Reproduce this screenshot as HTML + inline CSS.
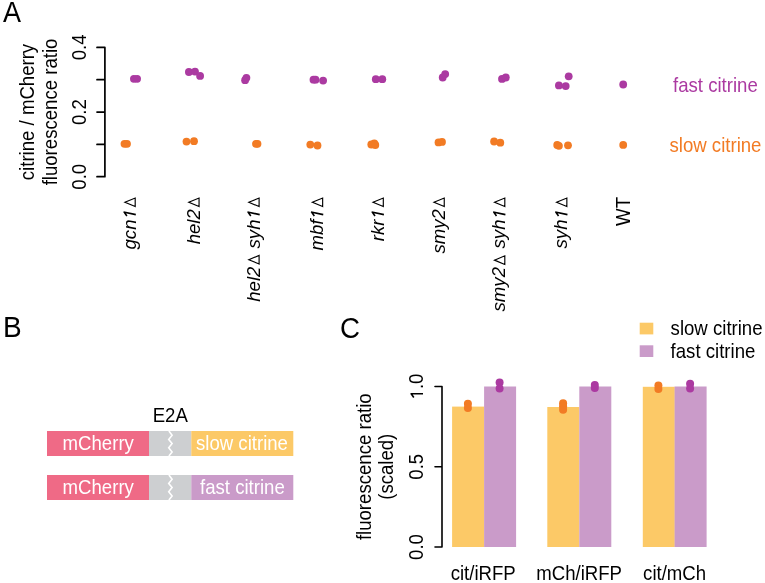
<!DOCTYPE html>
<html><head><meta charset="utf-8">
<style>
html,body{margin:0;padding:0;background:#fff;width:765px;height:583px;overflow:hidden}
svg{display:block;will-change:transform}
text{font-family:"Liberation Sans",sans-serif;fill:#000}
.d{font-style:normal;font-size:16px;fill-opacity:0}
.o{fill-opacity:0}
</style></head><body>
<svg width="765" height="583" viewBox="0 0 765 583">
<text transform="translate(3.1 22.4) scale(0.965 1.05)" text-anchor="start" style="font-size:28px;fill:#000" >A</text>
<text transform="translate(2.9 337.1) scale(1.0 1.04)" text-anchor="start" style="font-size:28px;fill:#000" >B</text>
<text transform="translate(340 337.6) scale(0.99 1.07)" text-anchor="start" style="font-size:28px;fill:#000" >C</text>
<path d="M97 47.4H104.9V176.7H97M97 79.7H104.9M97 112.1H104.9M97 144.4H104.9" fill="none" stroke="#000" stroke-width="1.7" stroke-linecap="round" stroke-linejoin="round"/>
<text transform="translate(85.75 176.7) rotate(-90) scale(1 1.042)" text-anchor="middle" style="font-size:18.6px;fill:#000">0.0</text>
<text transform="translate(85.75 112.1) rotate(-90) scale(1 1.042)" text-anchor="middle" style="font-size:18.6px;fill:#000">0.2</text>
<text transform="translate(85.75 47.4) rotate(-90) scale(1 1.042)" text-anchor="middle" style="font-size:18.6px;fill:#000">0.4</text>
<text transform="translate(33.9 112) rotate(-90) scale(1 1.042)" text-anchor="middle" style="font-size:18.6px;fill:#000">citrine / mCherry</text>
<text transform="translate(57 112) rotate(-90) scale(1 1.042)" text-anchor="middle" style="font-size:18.6px;fill:#000">fluorescence ratio</text>
<g fill="#ab3aa1"><circle cx="133.9" cy="78.8" r="3.9"/><circle cx="137.1" cy="78.8" r="3.9"/><circle cx="188.9" cy="72" r="3.9"/><circle cx="195" cy="71.6" r="3.9"/><circle cx="200.1" cy="75.9" r="3.9"/><circle cx="246.4" cy="77.8" r="3.9"/><circle cx="245.1" cy="80.2" r="3.9"/><circle cx="313.5" cy="79.7" r="3.9"/><circle cx="315.5" cy="79.7" r="3.9"/><circle cx="323.1" cy="80.6" r="3.9"/><circle cx="375.8" cy="79.2" r="3.9"/><circle cx="382.3" cy="79.2" r="3.9"/><circle cx="442.7" cy="77.5" r="3.9"/><circle cx="445.2" cy="74.1" r="3.9"/><circle cx="502" cy="78.9" r="3.9"/><circle cx="505.8" cy="77.5" r="3.9"/><circle cx="568.7" cy="76.3" r="3.9"/><circle cx="558.9" cy="85.4" r="3.9"/><circle cx="565.7" cy="86.1" r="3.9"/><circle cx="623.2" cy="84.5" r="3.9"/></g>
<g fill="#f27b24"><circle cx="124.5" cy="143.8" r="3.9"/><circle cx="127" cy="143.8" r="3.9"/><circle cx="186.5" cy="141.6" r="3.9"/><circle cx="194" cy="141.2" r="3.9"/><circle cx="256" cy="143.8" r="3.9"/><circle cx="257.5" cy="143.8" r="3.9"/><circle cx="310.3" cy="144.6" r="3.9"/><circle cx="317.5" cy="145.5" r="3.9"/><circle cx="371.3" cy="144.5" r="3.9"/><circle cx="374.3" cy="143.5" r="3.9"/><circle cx="375.3" cy="145" r="3.9"/><circle cx="438.5" cy="142.4" r="3.9"/><circle cx="442" cy="141.9" r="3.9"/><circle cx="494.1" cy="141.5" r="3.9"/><circle cx="500.3" cy="142.7" r="3.9"/><circle cx="557.2" cy="144.9" r="3.9"/><circle cx="558.9" cy="145.8" r="3.9"/><circle cx="568" cy="145.3" r="3.9"/><circle cx="623.2" cy="144.9" r="3.9"/></g>
<text transform="translate(673 91.6) scale(1.0 1.042)" text-anchor="start" style="font-size:18.6px;fill:#ab3aa1" >fast citrine</text>
<text transform="translate(669.5 151.7) scale(1.0 1.042)" text-anchor="start" style="font-size:18.6px;fill:#f27b24" >slow citrine</text>
<text transform="translate(135.8 197) rotate(-90) scale(1 0.97)" text-anchor="end" style="font-size:18.6px;fill:#000;font-style:italic">gcn<tspan class="o">1</tspan><tspan class="d" dx="1.5">Δ</tspan></text>
<text transform="translate(199.65 197) rotate(-90) scale(1 0.97)" text-anchor="end" style="font-size:18.6px;fill:#000;font-style:italic">hel2<tspan class="d" dx="1.5">Δ</tspan></text>
<text transform="translate(259.7 197) rotate(-90) scale(1 0.97)" text-anchor="end" style="font-size:18.6px;fill:#000;font-style:italic">hel2<tspan class="d" dx="1.5">Δ</tspan> <tspan dx="0.8">syh</tspan><tspan class="o">1</tspan><tspan class="d" dx="1.5">Δ</tspan></text>
<text transform="translate(323.25 197) rotate(-90) scale(1 0.97)" text-anchor="end" style="font-size:18.6px;fill:#000;font-style:italic">mbf<tspan class="o">1</tspan><tspan class="d" dx="1.5">Δ</tspan></text>
<text transform="translate(383.9 197) rotate(-90) scale(1 0.97)" text-anchor="end" style="font-size:18.6px;fill:#000;font-style:italic">rkr<tspan class="o">1</tspan><tspan class="d" dx="1.5">Δ</tspan></text>
<text transform="translate(444.85 197) rotate(-90) scale(1 0.97)" text-anchor="end" style="font-size:18.6px;fill:#000;font-style:italic">smy2<tspan class="d" dx="1.5">Δ</tspan></text>
<text transform="translate(505.4 197) rotate(-90) scale(1 0.97)" text-anchor="end" style="font-size:18.6px;fill:#000;font-style:italic">smy2<tspan class="d" dx="1.5">Δ</tspan> <tspan dx="1.2">syh</tspan><tspan class="o">1</tspan><tspan class="d" dx="1.5">Δ</tspan></text>
<text transform="translate(567.45 197) rotate(-90) scale(1 0.97)" text-anchor="end" style="font-size:18.6px;fill:#000;font-style:italic">syh<tspan class="o">1</tspan><tspan class="d" dx="1.5">Δ</tspan></text>
<path d="M135.20 206.59L124.90 202.29L135.20 197.99ZM199.05 206.59L188.75 202.29L199.05 197.99ZM259.10 264.04L248.80 259.74L259.10 255.44ZM259.10 206.59L248.80 202.29L259.10 197.99ZM322.65 206.59L312.35 202.29L322.65 197.99ZM383.30 206.59L373.00 202.29L383.30 197.99ZM444.25 206.59L433.95 202.29L444.25 197.99ZM504.80 264.44L494.50 260.14L504.80 255.84ZM504.80 206.59L494.50 202.29L504.80 197.99ZM566.85 206.59L556.55 202.29L566.85 197.99Z" fill="none" stroke="#000" stroke-width="1.15" stroke-linejoin="miter"/>
<path d="M135.80 214.64L123.50 212.04M124.10 212.14L126.90 216.04M259.70 214.64L247.40 212.04M248.00 212.14L250.80 216.04M323.25 214.64L310.95 212.04M311.55 212.14L314.35 216.04M383.90 214.64L371.60 212.04M372.20 212.14L375.00 216.04M505.40 214.64L493.10 212.04M493.70 212.14L496.50 216.04M567.45 214.64L555.15 212.04M555.75 212.14L558.55 216.04M423.00 393.70L410.50 393.70M411.00 393.53L413.80 397.43" fill="none" stroke="#000" stroke-width="1.6"/>
<text transform="translate(629.5 197) rotate(-90) scale(1 1.042)" text-anchor="end" style="font-size:18.6px;fill:#000">WT</text>
<text transform="translate(152.7 422) scale(1.0 1.042)" text-anchor="start" style="font-size:18.6px;fill:#000" >E2A</text>
<rect x="47" y="431" width="102" height="25" fill="#ef6a86"/>
<rect x="149" y="431" width="42.3" height="25" fill="#cdcfd1"/>
<rect x="191.3" y="431" width="102" height="25" fill="#fcc967"/>
<path d="M168.9 431L172.1 435.2L168.7 439.4L172.1 443.6L168.7 447.7L172.1 452L168.9 456" fill="none" stroke="#fff" stroke-width="1.6"/>
<rect x="47" y="475" width="102" height="25" fill="#ef6a86"/>
<rect x="149" y="475" width="42.3" height="25" fill="#cdcfd1"/>
<rect x="191.3" y="475" width="102" height="25" fill="#ca9bc9"/>
<path d="M168.9 475L172.1 479.2L168.7 483.4L172.1 487.6L168.7 491.7L172.1 496L168.9 500" fill="none" stroke="#fff" stroke-width="1.6"/>
<text transform="translate(62.6 449.7) scale(1.0 1.042)" text-anchor="start" style="font-size:18.6px;fill:#fff" >mCherry</text>
<text transform="translate(62.6 493.7) scale(1.0 1.042)" text-anchor="start" style="font-size:18.6px;fill:#fff" >mCherry</text>
<text transform="translate(196 449.7) scale(1.0 1.042)" text-anchor="start" style="font-size:18.6px;fill:#fff" >slow citrine</text>
<text transform="translate(200 493.7) scale(1.0 1.042)" text-anchor="start" style="font-size:18.6px;fill:#fff" >fast citrine</text>
<rect x="452.1" y="406.6" width="32" height="140.39999999999998" fill="#fcc967"/>
<rect x="484.1" y="386.5" width="32" height="160.5" fill="#ca9bc9"/>
<rect x="547.3" y="407" width="32" height="140" fill="#fcc967"/>
<rect x="579.3" y="386.5" width="32" height="160.5" fill="#ca9bc9"/>
<rect x="642.8" y="386.8" width="32" height="160.2" fill="#fcc967"/>
<rect x="674.6" y="386.5" width="32" height="160.5" fill="#ca9bc9"/>
<g fill="#f27b24"><circle cx="467.9" cy="403.7" r="4.0"/><circle cx="467.9" cy="408" r="4.0"/><circle cx="563.1" cy="403.3" r="4.0"/><circle cx="563.1" cy="406.3" r="4.0"/><circle cx="563.1" cy="409.7" r="4.0"/><circle cx="658.4" cy="385.5" r="4.0"/><circle cx="658.4" cy="389" r="4.0"/></g>
<g fill="#ab3aa1"><circle cx="499.6" cy="382.5" r="4.0"/><circle cx="499.6" cy="388.5" r="4.0"/><circle cx="594.8" cy="385" r="4.0"/><circle cx="594.8" cy="388" r="4.0"/><circle cx="690.1" cy="383.8" r="4.0"/><circle cx="690.1" cy="388.5" r="4.0"/></g>
<path d="M435 386.5H442V547H435M435 466.75H442" fill="none" stroke="#000" stroke-width="1.6" stroke-linecap="round" stroke-linejoin="round"/>
<text transform="translate(423 547) rotate(-90) scale(1 1.042)" text-anchor="middle" style="font-size:18.6px;fill:#000">0.0</text>
<text transform="translate(423 466.75) rotate(-90) scale(1 1.042)" text-anchor="middle" style="font-size:18.6px;fill:#000">0.5</text>
<text transform="translate(423 386.5) rotate(-90) scale(1 1.042)" text-anchor="middle" style="font-size:18.6px;fill:#000"><tspan class="o">1</tspan>.0</text>
<text transform="translate(371.3 466.75) rotate(-90) scale(1 1.042)" text-anchor="middle" style="font-size:18.6px;fill:#000">fluorescence ratio</text>
<text transform="translate(393.3 466.75) rotate(-90) scale(1 1.042)" text-anchor="middle" style="font-size:18.6px;fill:#000">(scaled)</text>
<text transform="translate(483.2 579.8) scale(1.0 1.042)" text-anchor="middle" style="font-size:18.6px;fill:#000" >cit/iRFP</text>
<text transform="translate(579.1 579.8) scale(1.0 1.042)" text-anchor="middle" style="font-size:18.6px;fill:#000" >mCh/iRFP</text>
<text transform="translate(674.6 579.8) scale(1.0 1.042)" text-anchor="middle" style="font-size:18.6px;fill:#000" >cit/mCh</text>
<rect x="639.7" y="322.7" width="13.6" height="11.7" fill="#fcc967"/>
<rect x="639.7" y="345.3" width="13.6" height="11.7" fill="#ca9bc9"/>
<text transform="translate(670.6 335.2) scale(1.0 1.042)" text-anchor="start" style="font-size:18.6px;fill:#000" >slow citrine</text>
<text transform="translate(670.6 357.6) scale(1.0 1.042)" text-anchor="start" style="font-size:18.6px;fill:#000" >fast citrine</text>
</svg>
</body></html>
